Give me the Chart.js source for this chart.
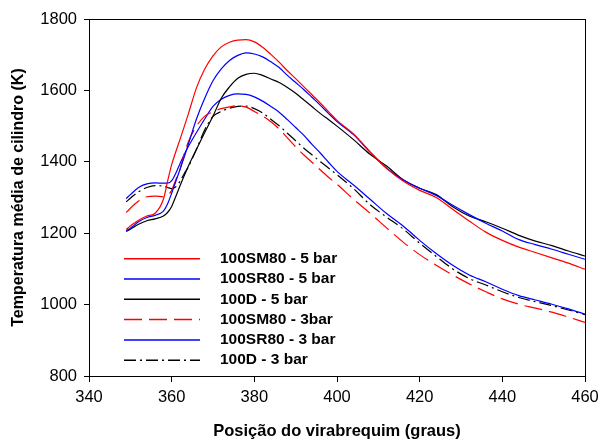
<!DOCTYPE html>
<html>
<head>
<meta charset="utf-8">
<script src="https://cdn.jsdelivr.net/npm/chart.js@4/dist/chart.umd.min.js"></script>
<style>
  html, body { margin: 0; padding: 0; background: #fff; }
  #wrap { width: 601px; height: 440px; }
</style>
</head>
<body>
<div id="wrap"><canvas id="chart" width="601" height="440"></canvas></div>
<script>
// crank angle (graus)
const crankAngle = [349, 350, 352, 354, 356, 358, 359, 360, 361, 362, 363, 364,
  366, 368, 370, 372, 374, 376, 378, 380, 382, 384, 386, 388, 390, 392, 394, 396, 398, 400,
  404, 408, 412, 416, 420, 424, 428, 432, 436, 440, 444, 448, 452, 456, 460];

// mean cylinder temperature (K)
const sm80_5bar = [1211, 1220, 1236, 1248, 1256, 1295, 1345, 1392, 1428, 1462, 1497, 1533,
  1607, 1660, 1697, 1722, 1735, 1741, 1742, 1736, 1721, 1701, 1679, 1655, 1633, 1610, 1587, 1564, 1540, 1516,
  1478, 1428, 1382, 1346, 1320, 1300, 1267, 1234, 1203, 1180, 1161, 1146, 1131, 1116, 1099];
const sr80_5bar = [1207, 1214, 1232, 1244, 1250, 1262, 1282, 1312, 1345, 1378, 1412, 1448,
  1520, 1578, 1627, 1660, 1684, 1698, 1705, 1702, 1694, 1680, 1664, 1642, 1622, 1602, 1580, 1558, 1535, 1513,
  1476, 1427, 1382, 1350, 1326, 1306, 1278, 1252, 1228, 1206, 1182, 1168, 1155, 1141, 1127];
const d_5bar = [1205, 1211, 1225, 1235, 1240, 1248, 1258, 1275, 1303, 1332, 1360, 1387,
  1435, 1482, 1528, 1578, 1610, 1634, 1645, 1648, 1642, 1632, 1622, 1608, 1592, 1573, 1554, 1535, 1518, 1500,
  1462, 1421, 1388, 1350, 1326, 1308, 1274, 1248, 1232, 1214, 1194, 1178, 1165, 1150, 1136];
const sm80_3bar = [1258, 1270, 1290, 1302, 1304, 1302, 1306, 1320, 1350, 1378, 1420, 1455,
  1500, 1528, 1540, 1549, 1554, 1557, 1553, 1541, 1528, 1512, 1492, 1467, 1442, 1419, 1398, 1377, 1356, 1337,
  1295, 1256, 1215, 1175, 1140, 1110, 1083, 1058, 1036, 1016, 1001, 990, 979, 965, 950];
const sr80_3bar = [1297, 1308, 1328, 1338, 1341, 1340, 1340, 1347, 1368, 1394, 1420, 1442,
  1482, 1520, 1555, 1575, 1586, 1590, 1589, 1582, 1570, 1555, 1539, 1518, 1496, 1474, 1448, 1424, 1398, 1373,
  1335, 1295, 1255, 1220, 1180, 1143, 1110, 1083, 1064, 1043, 1025, 1013, 1001, 988, 973];
const d_3bar = [1288, 1298, 1316, 1328, 1333, 1332, 1328, 1325, 1330, 1345, 1366, 1385,
  1435, 1490, 1527, 1541, 1550, 1555, 1556, 1549, 1537, 1519, 1501, 1480, 1459, 1438, 1419, 1400, 1382, 1364,
  1325, 1280, 1245, 1212, 1172, 1135, 1100, 1073, 1055, 1036, 1020, 1008, 997, 985, 972];

const seriesLabels = ['100SM80 - 5 bar', '100SR80 - 5 bar', '100D - 5 bar',
  '100SM80 - 3bar', '100SR80 - 3 bar', '100D - 3 bar'];

const xRange = [340, 460];
const yRange = [800, 1800];

const FONT = 'Arial, "Liberation Sans", sans-serif';

function pts(arr) {
  return crankAngle.map((x, i) => ({ x, y: arr[i] }));
}

function ds(label, arr, color, dash) {
  return {
    label,
    data: pts(arr),
    borderColor: color,
    backgroundColor: color,
    borderWidth: 1.2,
    borderDash: dash,
    pointRadius: 0,
    tension: 0.4,
    cubicInterpolationMode: 'monotone',
    fill: false,
  };
}

// box round the plot area
const frame = {
  id: 'frame',
  afterDraw(chart) {
    const { ctx, chartArea: a } = chart;
    ctx.save();
    ctx.strokeStyle = '#000';
    ctx.lineWidth = 1;
    ctx.strokeRect(Math.round(a.left) + 0.5, Math.round(a.top) + 0.5,
      Math.round(a.right - a.left), Math.round(a.bottom - a.top));
    ctx.restore();
  },
};

// legend inside the plot, lower left
const innerLegend = {
  id: 'innerLegend',
  afterDraw(chart) {
    const { ctx } = chart;
    const x0 = 124, x1 = 200, tx = 220, y0 = 258.7, step = 20.3;
    ctx.save();
    chart.data.datasets.forEach((d, i) => {
      const y = y0 + i * step;
      ctx.strokeStyle = d.borderColor;
      ctx.lineWidth = 1.5;
      ctx.setLineDash(d.borderDash);
      ctx.beginPath();
      ctx.moveTo(x0, y);
      ctx.lineTo(x1, y);
      ctx.stroke();
      ctx.setLineDash([]);
      ctx.fillStyle = '#000';
      ctx.font = 'bold 15.5px ' + FONT;
      ctx.textBaseline = 'middle';
      ctx.textAlign = 'left';
      ctx.fillText(d.label, tx, y);
    });
    ctx.restore();
  },
};

new Chart(document.getElementById('chart'), {
  type: 'line',
  data: {
    datasets: [
      ds(seriesLabels[0], sm80_5bar, '#ff0000', []),
      ds(seriesLabels[1], sr80_5bar, '#0000ff', []),
      ds(seriesLabels[2], d_5bar, '#000000', []),
      ds(seriesLabels[3], sm80_3bar, '#ff0000', [18, 7]),
      ds(seriesLabels[4], sr80_3bar, '#0000ff', []),
      ds(seriesLabels[5], d_3bar, '#000000', [12, 4, 2, 4]),
    ],
  },
  options: {
    responsive: false,
    animation: false,
    layout: { padding: { top: 19, right: 16, left: 0, bottom: 0 } },
    plugins: { legend: { display: false }, tooltip: { enabled: false } },
    scales: {
      x: {
        type: 'linear',
        min: xRange[0],
        max: xRange[1],
        afterFit(s) { s.height = 64; s.paddingRight = 16; s.paddingLeft = 0; },
        ticks: { stepSize: 20, color: '#000', padding: 6, font: { family: FONT, size: 16.5 },
          callback: v => String(v) },
        grid: { drawOnChartArea: false, drawTicks: true, tickLength: 6, color: '#000' },
        border: { color: '#000', width: 1 },
        title: {
          display: true,
          text: 'Posição do virabrequim (graus)',
          color: '#000',
          padding: { top: 0, bottom: 0 },
          font: { family: FONT, size: 16.5, weight: 'bold', lineHeight: 1 },
        },
      },
      y: {
        min: yRange[0],
        max: yRange[1],
        afterFit(s) { s.width = 89; },
        ticks: { stepSize: 200, color: '#000', padding: 7, font: { family: FONT, size: 16.5 },
          callback: v => String(v) },
        grid: { drawOnChartArea: false, drawTicks: true, tickLength: 5, color: '#000' },
        border: { color: '#000', width: 1 },
        title: {
          display: true,
          text: 'Temperatura média de cilindro (K)',
          color: '#000',
          padding: { top: 11, bottom: 0 },
          font: { family: FONT, size: 16, weight: 'bold', lineHeight: 1 },
        },
      },
    },
  },
  plugins: [frame, innerLegend],
});
</script>
</body>
</html>
